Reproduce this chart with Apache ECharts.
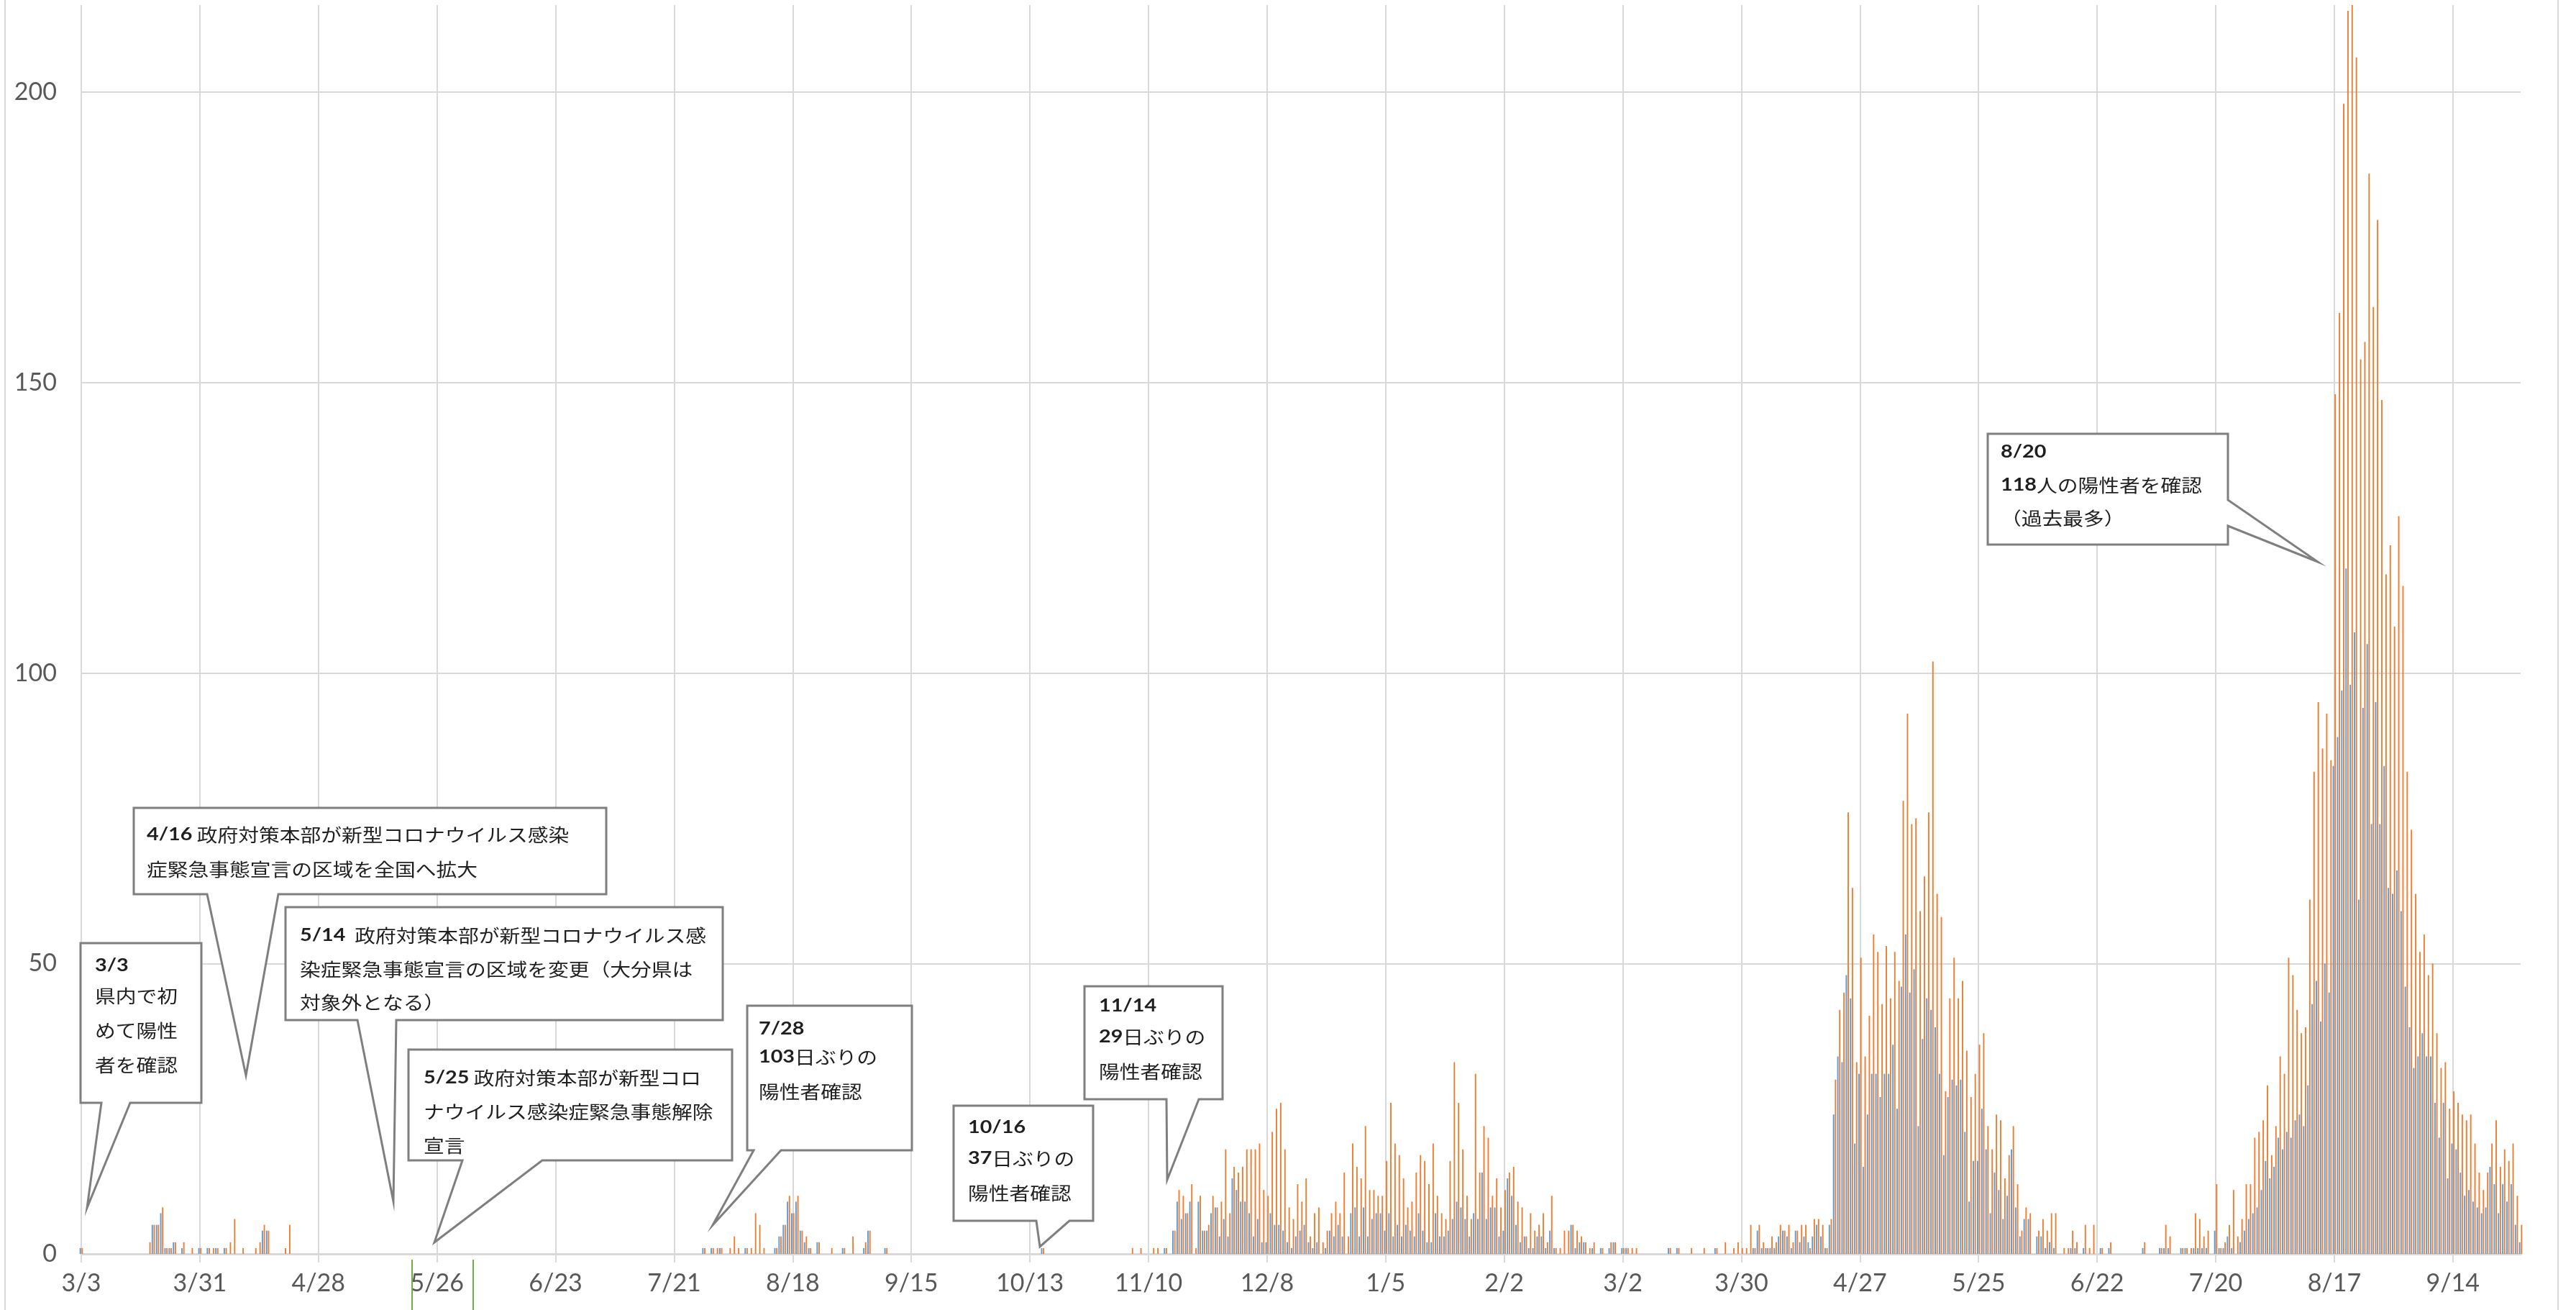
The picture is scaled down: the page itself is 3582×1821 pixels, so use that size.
<!DOCTYPE html>
<html>
<head>
<meta charset="utf-8">
<script src="https://cdn.jsdelivr.net/npm/echarts@6/dist/echarts.min.js"></script>
<style>
  html, body { margin: 0; padding: 0; background: #fff; }
  #chart { width: 3582px; height: 1821px; }
</style>
</head>
<body>
<div id="chart"></div>
<script>
// 2020/3/3 から1日ごと、1行 = 28日（目盛り1つ分）
const blueRows = [
  [1,0,0,0,0,0,0,0,0,0,0,0,0,0,0,0,0,5,5,7,1,1,2,0,1,0,0,0],          // 3/3
  [1,0,1,0,1,0,1,0,0,0,0,0,0,0,0,4,4,0,0,0,0,0,0,0,0,0,0,0],          // 3/31
  [0,0,0,0,0,0,0,0,0,0,0,0,0,0,0,0,0,0,0,0,0,0,0,0,0,0,0,0],          // 4/28
  [0,0,0,0,0,0,0,0,0,0,0,0,0,0,0,0,0,0,0,0,0,0,0,0,0,0,0,0],          // 5/26
  [0,0,0,0,0,0,0,0,0,0,0,0,0,0,0,0,0,0,0,0,0,0,0,0,0,0,0,0],          // 6/23
  [0,0,0,0,0,0,0,1,0,1,0,1,0,0,0,0,0,1,0,0,0,0,0,0,1,3,5,9],          // 7/21
  [7,9,4,2,1,0,2,0,0,0,0,0,1,0,0,0,0,1,4,0,0,0,1,0,0,0,0,0],          // 8/18
  [0,0,0,0,0,0,0,0,0,0,0,0,0,0,0,0,0,0,0,0,0,0,0,0,0,0,0,0],          // 9/15
  [0,0,0,1,0,0,0,0,0,0,0,0,0,0,0,0,0,0,0,0,0,0,0,0,0,0,0,0],          // 10/13
  [0,0,0,0,1,0,4,9,6,7,9,0,9,4,4,7,8,3,6,3,13,11,9,9,7,3,6,2],        // 11/10
  [2,7,5,5,4,2,1,3,4,5,2,1,2,0,1,4,3,5,3,0,7,8,3,8,3,6,7,7],          // 12/8
  [4,7,3,5,3,5,4,3,7,4,2,2,7,3,3,4,6,9,8,6,3,7,6,14,6,8,8,3],         // 1/5
  [4,13,10,5,2,3,1,1,3,3,1,4,1,0,0,0,5,1,2,2,0,1,0,1,0,1,2,0],        // 2/2
  [1,1,0,0,0,0,0,0,0,0,0,1,0,1,0,0,0,0,0,0,0,0,1,0,0,0,0,0],          // 3/2
  [0,0,0,1,4,1,1,1,1,3,4,3,1,4,2,3,2,3,5,3,1,5,24,34,33,48,44,19],    // 3/30
  [31,15,24,31,31,27,31,31,36,25,46,55,45,49,22,37,44,42,39,31,17,27,30,29,30,21,9,16], // 4/27
  [16,25,18,7,14,11,6,10,18,8,3,6,6,0,3,3,1,2,1,0,0,0,1,1,0,1,0,0],   // 5/25
  [0,1,0,1,0,0,0,0,0,0,0,1,0,0,0,1,1,1,0,0,1,1,0,1,1,1,1,0],          // 6/22
  [4,1,1,3,1,0,2,4,6,7,8,11,16,13,15,20,18,21,20,23,24,22,29,43,47,40,50,45], // 7/20
  [84,89,97,118,98,107,61,94,105,74,95,74,84,63,62,66,59,46,39,32,34,38,34,34,26,20,26,13], // 8/17
  [19,18,14,10,11,9,8,7,8,15,12,7,12,9,12,5,2]                          // 9/14
];
const orangeRows = [
  [1,0,0,0,0,0,0,0,0,0,0,0,0,0,0,0,2,5,5,8,1,1,2,0,2,0,1,0],
  [1,0,1,1,1,0,1,2,6,0,1,0,0,1,2,5,4,0,0,0,1,5,0,0,0,0,0,0],
  [0,0,0,0,0,0,0,0,0,0,0,0,0,0,0,0,0,0,0,0,0,0,0,0,0,0,0,0],
  [0,0,0,0,0,0,0,0,0,0,0,0,0,0,0,0,0,0,0,0,0,0,0,0,0,0,0,0],
  [0,0,0,0,0,0,0,0,0,0,0,0,0,0,0,0,0,0,0,0,0,0,0,0,0,0,0,0],
  [0,0,0,0,0,0,0,1,0,1,1,1,0,1,3,1,0,1,1,7,5,1,0,0,1,3,5,10],
  [7,10,4,3,1,0,2,0,0,1,0,0,1,0,3,0,0,2,4,0,0,0,1,0,0,0,0,0],
  [0,0,0,0,0,0,0,0,0,0,0,0,0,0,0,0,0,0,0,0,0,0,0,0,0,0,0,0],
  [0,0,0,1,0,0,0,0,0,0,0,0,0,0,0,0,0,0,0,0,0,0,0,0,1,0,1,0],
  [0,1,1,0,1,0,4,11,10,7,12,1,10,4,5,10,8,9,18,7,15,14,15,18,18,18,19,11],
  [10,21,25,26,18,8,6,12,9,13,3,7,8,2,4,7,9,7,14,3,19,15,13,22,11,11,10,10],
  [16,26,19,17,13,8,9,14,17,16,12,19,10,7,6,16,33,26,18,10,6,31,14,22,20,10,13,8],
  [11,14,15,9,8,3,7,4,5,7,2,10,1,1,4,4,5,4,3,2,1,2,0,1,0,2,2,0],
  [1,1,1,1,0,0,0,0,0,0,0,1,0,1,0,0,1,0,0,1,0,0,1,0,2,0,1,2],
  [1,1,5,1,5,2,1,3,2,5,4,5,2,4,5,5,1,6,6,5,1,6,30,42,45,76,63,33],
  [51,34,41,55,52,43,53,44,52,47,78,93,74,75,59,65,76,102,62,58,28,44,51,44,47,35,27,31],
  [36,38,22,18,24,23,13,17,22,12,4,8,7,0,4,6,4,7,7,0,1,1,4,2,0,5,1,5],
  [0,1,0,2,0,0,0,0,0,0,0,2,0,0,0,1,5,3,0,0,1,1,1,7,6,3,4,0],
  [12,1,2,5,11,3,6,12,12,20,21,23,29,17,22,34,31,51,48,42,38,39,61,83,95,87,93,85],
  [148,162,198,214,230,206,154,157,186,163,178,147,117,122,108,127,115,83,73,62,52,55,48,50,38,32,33,25],
  [28,26,24,23,24,19,14,11,14,19,23,15,18,16,19,10,5]
];
const yMax = 215;
const yStep = 50;

const blue = blueRows.flat();
const orange = orangeRows.flat();

// 日付ラベル
const days = blue.map((_, i) => {
  const d = new Date(Date.UTC(2020, 2, 3 + i));
  return (d.getUTCMonth() + 1) + '/' + d.getUTCDate();
});

// 吹き出し（画面座標）
const notes = [
  { pts: [[112,1311],[280,1311],[280,1533],[181,1533],[121,1679],[141,1533],[112,1533]],
    x: 132, lines: [['{d|3/3}', 1342], ['県内で初', 1384], ['めて陽性', 1432], ['者を確認', 1480]] },
  { pts: [[186,1123],[843,1123],[843,1243],[387,1243],[342,1495],[288,1243],[186,1243]],
    x: 204, lines: [['{d|4/16} 政府対策本部が新型コロナウイルス感染', 1160], ['症緊急事態宣言の区域を全国へ拡大', 1208]] },
  { pts: [[397,1261],[1005,1261],[1005,1418],[551,1418],[547,1670],[497,1418],[397,1418]],
    x: 417, lines: [['{d|5/14}  政府対策本部が新型コロナウイルス感', 1300], ['染症緊急事態宣言の区域を変更（大分県は', 1347], ['対象外となる）', 1393]] },
  { pts: [[568,1459],[1018,1459],[1018,1613],[754,1613],[604,1727],[643,1613],[568,1613]],
    x: 589, lines: [['{d|5/25} 政府対策本部が新型コロ', 1498], ['ナウイルス感染症緊急事態解除', 1545], ['宣言', 1592]] },
  { pts: [[1039,1398],[1268,1398],[1268,1599],[1086,1599],[991,1703],[1048,1599],[1039,1599]],
    x: 1055, lines: [['{d|7/28}', 1430], ['{d|103}日ぶりの', 1469], ['陽性者確認', 1517]] },
  { pts: [[1326,1537],[1520,1537],[1520,1697],[1487,1697],[1446,1733],[1441,1697],[1326,1697]],
    x: 1346, lines: [['{d|10/16}', 1567], ['{d|37}日ぶりの', 1610], ['陽性者確認', 1658]] },
  { pts: [[1508,1371],[1700,1371],[1700,1528],[1667,1528],[1623,1640],[1622,1528],[1508,1528]],
    x: 1528, lines: [['{d|11/14}', 1398], ['{d|29}日ぶりの', 1441], ['陽性者確認', 1489]] },
  { pts: [[2764,603],[3098,603],[3098,695],[3223,781],[3098,731],[3098,757],[2764,757]],
    x: 2782, lines: [['{d|8/20}', 628], ['{d|118}人の陽性者を確認', 674], ['（過去最多）', 720]] }
];

const graphics = [];
notes.forEach(n => {
  graphics.push({
    type: 'polygon', z: 100,
    shape: { points: n.pts },
    style: { fill: '#ffffff', stroke: '#7f7f7f', lineWidth: 3, lineJoin: 'miter' }
  });
  n.lines.forEach(([t, y]) => {
    graphics.push({
      type: 'text', z: 101, x: n.x, y: y, scaleX: 1.15,
      style: {
        text: t,
        fontSize: 25,
        fontFamily: '"Noto Sans CJK JP", sans-serif',
        fill: '#1f1f1f',
        align: 'left',
        verticalAlign: 'middle',
        rich: {
          d: { fontSize: 25, fontFamily: 'Lato', fontWeight: 'bold', fill: '#1f1f1f' }
        }
      }
    });
  });
});
// 緑の縦線と外枠
[573, 658].forEach(x => graphics.push({
  type: 'line', z: 50, shape: { x1: x, y1: 1751, x2: x, y2: 1821 },
  style: { stroke: '#70ad47', lineWidth: 2 }
}));
[7, 3557].forEach(x => graphics.push({
  type: 'line', z: 50, shape: { x1: x, y1: 0, x2: x, y2: 1821 },
  style: { stroke: '#d9d9d9', lineWidth: 2 }
}));

const chart = echarts.init(document.getElementById('chart'));
chart.setOption({
  animation: false,
  backgroundColor: '#ffffff',
  grid: { left: 113, right: 77, top: 7, bottom: 78, containLabel: false, outerBoundsMode: 'none' },
  xAxis: {
    type: 'category',
    data: days,
    boundaryGap: false,
    axisLine: { show: true, lineStyle: { color: '#d9d9d9', width: 3 } },
    axisTick: { show: true, interval: 27, length: 12, lineStyle: { color: '#d9d9d9', width: 2 } },
    axisLabel: { interval: 27, margin: 24, fontSize: 34, fontFamily: 'Lato', color: '#595959' },
    splitLine: { show: true, interval: 27, lineStyle: { color: '#d9d9d9', width: 2 } }
  },
  yAxis: {
    type: 'value',
    min: 0,
    max: yMax,
    interval: yStep,
    axisLine: { show: false },
    axisTick: { show: false },
    axisLabel: {
      margin: 34, fontSize: 34, fontFamily: 'Lato', color: '#595959',
      showMaxLabel: false,
      formatter: v => (v % yStep === 0 ? String(v) : '')
    },
    splitLine: { show: true, showMaxLine: false, lineStyle: { color: '#d9d9d9', width: 2 } }
  },
  series: [
    { type: 'bar', name: 'blue', data: blue, barWidth: 1.9, barGap: '40%',
      itemStyle: { color: '#5b9bd5' }, clip: true },
    { type: 'bar', name: 'orange', data: orange, barWidth: 1.9, barGap: '40%',
      itemStyle: { color: '#ed7d31' }, clip: true }
  ],
  graphic: { elements: graphics }
});
</script>
</body>
</html>
